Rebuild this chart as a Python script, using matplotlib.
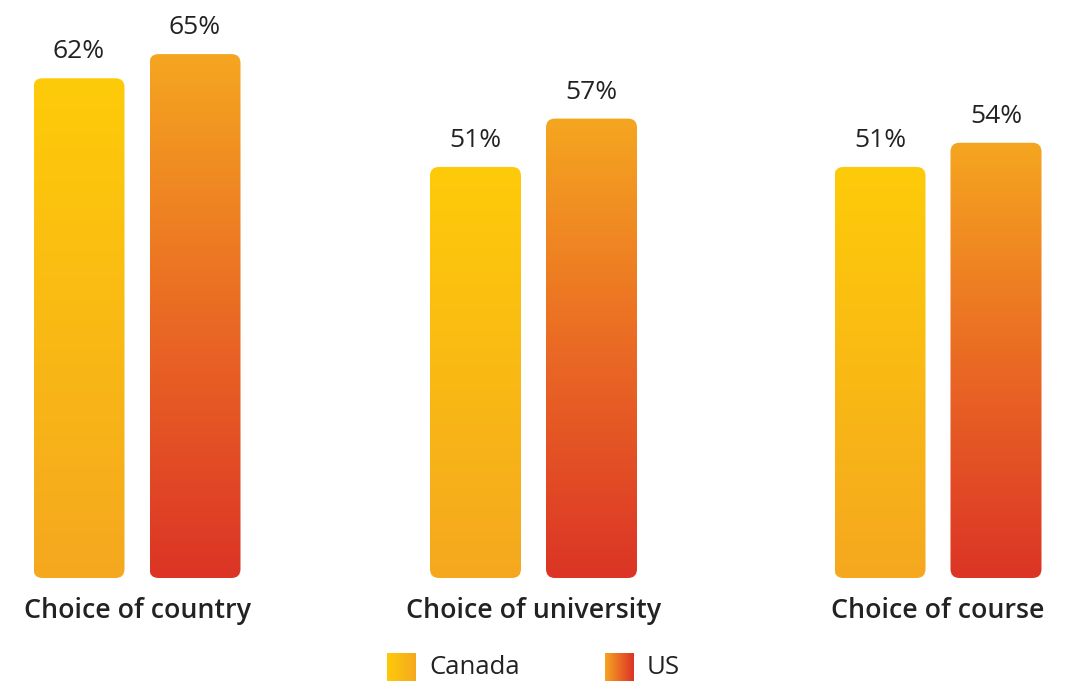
import numpy as np
import matplotlib
matplotlib.use("Agg")
import matplotlib.pyplot as plt
from matplotlib.patches import FancyBboxPatch
from matplotlib.colors import LinearSegmentedColormap

categories = ["Choice of country", "Choice of university", "Choice of course"]
series_names = ["Canada", "US"]
canada = [62, 51, 51]
us = [65, 57, 54]

plt.rcParams['font.family'] = ['Open Sans', 'DejaVu Sans']

W, H = 1071, 681
fig = plt.figure(figsize=(W / 100, H / 100), dpi=100)
ax = fig.add_axes([0, (H - 578) / H, 1, 578 / H])
px_per_x = 400.5
px_per_y = 8.06
ax.set_xlim(-137 / px_per_x, (W - 137) / px_per_x)
ax.set_ylim(0, 578 / px_per_y)
ax.axis('off')

cmap_ca = LinearSegmentedColormap.from_list("ca", ["#F5A81F", "#FECB09"])
cmap_us = LinearSegmentedColormap.from_list("us", ["#DC3426", "#EA6A24", "#F5A620"])

width = 91 / px_per_x
offset = 58 / px_per_x
rs = 9 / px_per_x
aspect = px_per_x / px_per_y

grad = np.linspace(0, 1, 256).reshape(-1, 1)
x = np.array([0, 0.99, 2.0])
for vals, sign, cmap in [(canada, -1, cmap_ca), (us, 1, cmap_us)]:
    for i, v in enumerate(vals):
        xc = x[i] + sign * offset
        x0 = xc - width / 2
        patch = FancyBboxPatch((x0, 0), width, v,
                               boxstyle=f"round,pad=0,rounding_size={rs}",
                               mutation_aspect=aspect, facecolor='none',
                               edgecolor='none', transform=ax.transData)
        ax.add_patch(patch)
        im = ax.imshow(grad, extent=(x0, x0 + width, 0, v), origin='lower',
                       cmap=cmap, aspect='auto', interpolation='bilinear', zorder=2)
        im.set_clip_path(patch)
        ax.annotate(f"{v}%", (xc, v), xytext=(0, 14), textcoords='offset pixels',
                    ha='center', va='bottom', fontsize=19, color='#222222')

for i, c in enumerate(categories):
    ax.annotate(c, (x[i], 0), xytext=(0, -33), textcoords='offset pixels',
                ha='center', va='center', fontsize=19.3, fontweight='semibold', color='#222222')

ax.set_xticks([]); ax.set_yticks([])

# legend
sw = np.linspace(0, 1, 256).reshape(1, -1)
leg = [(387, "Canada", LinearSegmentedColormap.from_list("lca", ["#FECB09", "#F5A81F"])),
       (605, "US", LinearSegmentedColormap.from_list("lus", ["#F5A620", "#EA6A24", "#DC3426"]))]
for xpix, name, cm in leg:
    lax = fig.add_axes([xpix / W, 0, 29 / W, 28 / H])
    lax.imshow(sw, cmap=cm, aspect='auto', interpolation='bilinear')
    lax.axis('off')
    fig.text((xpix + 42) / W, (H - 667) / H, name, ha='left', va='center',
             fontsize=18.5, color='#222222')

fig.savefig("out.png", dpi=100)
